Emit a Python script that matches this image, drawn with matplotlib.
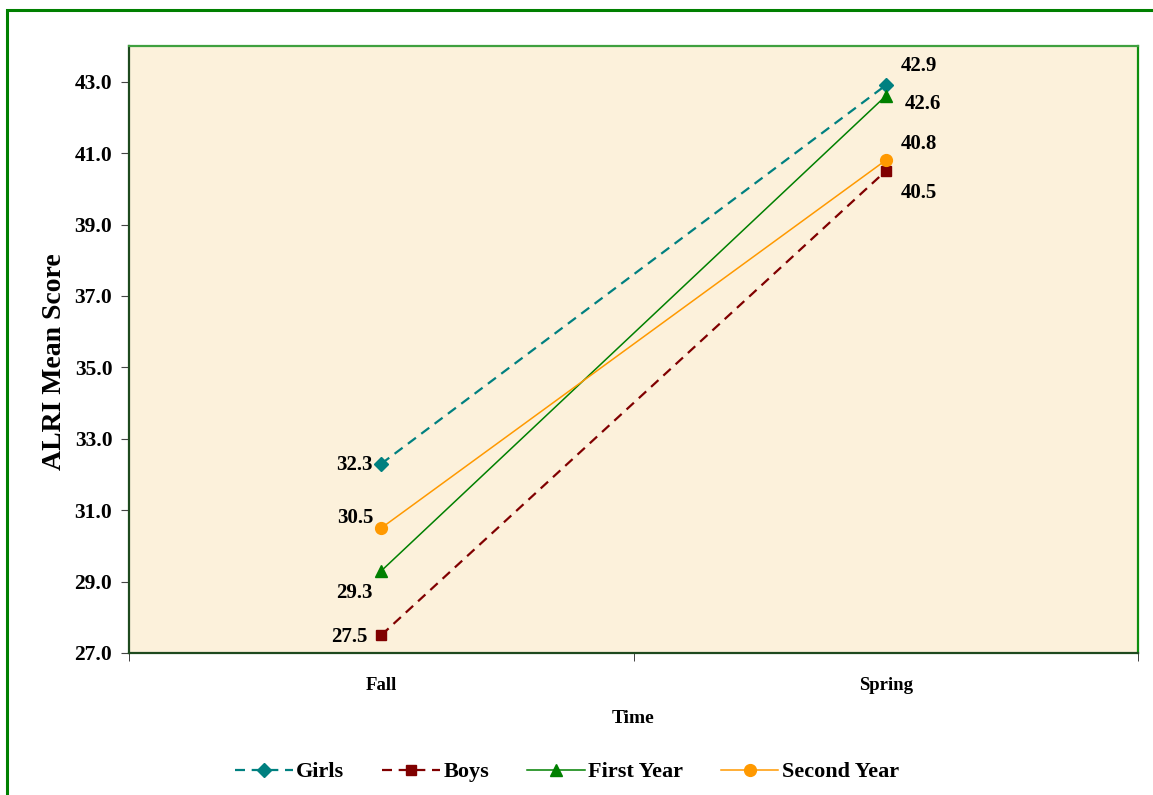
import matplotlib
matplotlib.use("Agg")
import matplotlib.pyplot as plt
from matplotlib.patches import Rectangle

plt.rcParams['font.family'] = ['Liberation Serif', 'DejaVu Serif']
plt.rcParams['font.weight'] = 'bold'

# Data
times = ["Fall", "Spring"]
girls = [32.3, 42.9]
boys = [27.5, 40.5]
first_year = [29.3, 42.6]
second_year = [30.5, 40.8]
y_ticks = [27.0, 29.0, 31.0, 33.0, 35.0, 37.0, 39.0, 41.0, 43.0]

W, H = 1153, 795
fig = plt.figure(figsize=(W / 100, H / 100), dpi=100)

# Outer green frame of the chart area
fig.patches.append(Rectangle((7 / W, 0 - 0.01), (W + 20) / W, 1 - 10 / H + 0.01,
                             transform=fig.transFigure, fill=False,
                             edgecolor="#008000", linewidth=2.2, zorder=0))

ax = fig.add_axes([129 / W, 1 - 653 / H, (1138 - 129) / W, (653 - 46) / H])
ax.set_facecolor("#FCF1DB")

x = list(range(len(times)))

series = [
    ("Girls", girls, "#008080", "D", (0, (4.5, 3)), 1.6, 7),
    ("Boys", boys, "#800000", "s", (0, (4.5, 3)), 1.6, 7.5),
    ("First Year", first_year, "#008000", "^", "-", 1.1, 9),
    ("Second Year", second_year, "#FF9900", "o", "-", 1.1, 8.5),
]
for name, vals, col, mk, ls, lw, ms in series:
    ax.plot(x, vals, color=col, linestyle=ls, linewidth=lw, marker=mk,
            markersize=ms, markerfacecolor=col, markeredgecolor=col,
            label=name, zorder=3)

# Value labels (offsets in points)
label_offsets = {
    "Girls": [(-19, -1), (24, 14)],
    "Boys": [(-23, -1), (24, -16)],
    "First Year": [(-19, -16), (27, -6)],
    "Second Year": [(-19, 7), (24, 12)],
}
for name, vals, *_ in series:
    for xi, v, off in zip(x, vals, label_offsets[name]):
        ax.annotate(f"{v:.1f}", (xi, v), xytext=off, textcoords="offset points",
                    ha="center", va="center", fontsize=15, fontweight="bold",
                    zorder=4)

ax.set_xlim(-0.5, 1.5)
ax.set_ylim(27, 44)
ax.set_yticks(y_ticks)
ax.set_yticklabels([f"{t:.1f}" for t in y_ticks], fontsize=15.5, fontweight="bold")
ax.set_xticks(x)
ax.set_xticklabels(times, fontsize=13.5, fontweight="bold")
ax.tick_params(axis="x", which="major", length=0, pad=17)
ax.set_xticks([-0.5, 0.5, 1.5], minor=True)
ax.tick_params(axis="x", which="minor", length=6, direction="out", color="#222222")
ax.tick_params(axis="y", length=6, direction="out", color="#444444", pad=6)

ax.set_xlabel("Time", fontsize=14, fontweight="bold", labelpad=12)
ax.set_ylabel("ALRI Mean Score", fontsize=20, fontweight="bold", labelpad=10)
ax.yaxis.set_label_coords(-0.061, 1 - (362 - 46) / (653 - 46))

ax.spines["left"].set_color("#1E4A1E")
ax.spines["bottom"].set_color("#1E4A1E")
ax.spines["top"].set_color("#3FA03F")
ax.spines["right"].set_color("#0E8E0E")
for s in ax.spines.values():
    s.set_linewidth(1.6)

fig.legend(loc="center", bbox_to_anchor=(567 / W, 1 - 772 / H), ncol=4,
           frameon=False, prop={"family": "Liberation Serif", "weight": "bold", "size": 16},
           handlelength=2.6, handletextpad=0.15, columnspacing=1.7)

fig.savefig("out.png", dpi=100)
